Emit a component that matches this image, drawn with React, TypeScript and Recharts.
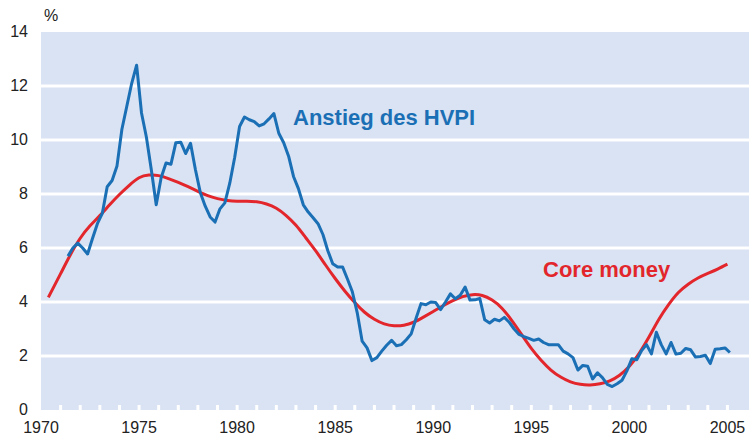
import { LineChart, Line, XAxis, YAxis, CartesianGrid } from "recharts";

// HVPI inflation, quarterly (mid-quarter), starting 1971 Q2
const hvpiStart = 1971.375;
const hvpi = [
  5.7, 6.0, 6.18, // 1971
  6.0, 5.78, 6.35, 6.9, // 1972
  7.28, 8.27, 8.5, 9.04, // 1973
  10.4, 11.25, 12.1, 12.77, // 1974
  11.0, 10.1, 8.9, 7.6, // 1975
  8.6, 9.15, 9.1, 9.9, // 1976
  9.92, 9.5, 9.88, 8.9, // 1977
  8.05, 7.55, 7.15, 6.96, // 1978
  7.45, 7.67, 8.4, 9.35, // 1979
  10.5, 10.85, 10.75, 10.68, // 1980
  10.52, 10.6, 10.78, 10.98, // 1981
  10.25, 9.9, 9.4, 8.65, // 1982
  8.2, 7.6, 7.33, 7.12, // 1983
  6.9, 6.5, 5.9, 5.42, // 1984
  5.3, 5.3, 4.85, 4.38, // 1985
  3.6, 2.55, 2.3, 1.83, // 1986
  1.94, 2.18, 2.4, 2.58, // 1987
  2.38, 2.42, 2.6, 2.82, // 1988
  3.4, 3.94, 3.9, 4.0, // 1989
  3.98, 3.72, 4.0, 4.3, // 1990
  4.12, 4.25, 4.55, 4.07, // 1991
  4.08, 4.13, 3.34, 3.22, // 1992
  3.36, 3.3, 3.43, 3.25, // 1993
  3.0, 2.8, 2.72, 2.65, // 1994
  2.58, 2.63, 2.5, 2.42, // 1995
  2.42, 2.42, 2.18, 2.08, // 1996
  1.94, 1.48, 1.65, 1.62, // 1997
  1.15, 1.38, 1.2, 0.95, // 1998
  0.87, 0.97, 1.1, 1.45, // 1999
  1.9, 1.86, 2.2, 2.42, // 2000
  2.08, 2.88, 2.42, 2.08, // 2001
  2.5, 2.07, 2.1, 2.28, // 2002
  2.23, 1.96, 1.98, 2.03, // 2003
  1.72, 2.25, 2.27, 2.3, // 2004
  2.13, // 2005
];

// Core money (smoothed)
const coreYears = [
  1970.375, 1971, 1971.5, 1972, 1972.5, 1973, 1973.5, 1974, 1974.5, 1975, 1975.5,
  1976, 1976.5, 1977, 1977.5, 1978, 1978.5, 1979, 1979.5, 1980, 1980.5, 1981,
  1981.5, 1982, 1982.5, 1983, 1983.5, 1984, 1984.5, 1985, 1985.5, 1986, 1986.5,
  1987, 1987.5, 1988, 1988.5, 1989, 1989.5, 1990, 1990.5, 1991, 1991.5, 1992,
  1992.5, 1993, 1993.5, 1994, 1994.5, 1995, 1995.5, 1996, 1996.5, 1997, 1997.5,
  1998, 1998.5, 1999, 1999.5, 2000, 2000.5, 2001, 2001.5, 2002, 2002.5, 2003,
  2003.5, 2004, 2004.5, 2005,
];
const core = [
  4.17, 5.05, 5.75, 6.36, 6.82, 7.2, 7.6, 7.98, 8.32, 8.6, 8.7,
  8.68, 8.57, 8.43, 8.27, 8.1, 7.94, 7.83, 7.76, 7.73, 7.73, 7.71,
  7.63, 7.47, 7.2, 6.84, 6.38, 5.9, 5.38, 4.87, 4.4, 3.98, 3.62,
  3.36, 3.19, 3.12, 3.14, 3.25, 3.44, 3.65, 3.86, 4.05, 4.2, 4.27,
  4.24, 4.07, 3.77, 3.32, 2.8, 2.28, 1.84, 1.48, 1.22, 1.04, 0.95,
  0.93, 0.97, 1.08, 1.29, 1.62, 2.1, 2.7, 3.35, 3.9, 4.35, 4.66,
  4.89, 5.06, 5.22, 5.4,
];

const yTicks = [0, 2, 4, 6, 8, 10, 12, 14];
const gridValues = [2, 4, 6, 8, 10, 12];
const yearLabels = [1970, 1975, 1980, 1985, 1990, 1995, 2000, 2005];
const yearTicks = Array.from({ length: 36 }, (_, i) => 1970 + i);

const hvpiData = hvpi.map((v, i) => ({ year: hvpiStart + i * 0.25, v }));
const coreData = coreYears.map((year, i) => ({ year, v: core[i] }));

const font = "Arial, 'Liberation Sans', sans-serif";
const blue = "#1a6fb5";
const red = "#e2262b";

function YearTick({ x, y, payload }: any) {
  const yr = payload.value;
  return (
    <g>
      {yr > 1970 && <line x1={x} x2={x} y1={y - 5} y2={y} stroke="#fff" strokeWidth={3} />}
      {yearLabels.includes(yr) && (
        <text x={x} y={y + 23} textAnchor="middle" fontSize={16} fill="#222" fontFamily={font}>
          {yr}
        </text>
      )}
    </g>
  );
}

export default function App() {
  return (
    <div style={{ position: "absolute", left: 0, top: 0, width: 752, height: 436, background: "#fff" }}>
      <LineChart width={752} height={436} margin={{ top: 32, right: 3, left: 0, bottom: 0 }}>
        <CartesianGrid
          fill="#d9e3f3"
          stroke="#fff"
          strokeWidth={3}
          vertical={false}
          horizontalValues={gridValues}
        />
        <XAxis
          type="number"
          dataKey="year"
          domain={[1970, 2006.1]}
          ticks={yearTicks}
          interval={0}
          height={26}
          axisLine={false}
          tickLine={false}
          tickSize={0}
          tickMargin={0}
          tick={<YearTick />}
          allowDataOverflow
        />
        <YAxis
          type="number"
          domain={[0, 14]}
          ticks={yTicks}
          interval={0}
          width={41}
          axisLine={false}
          tickLine={false}
          tickSize={0}
          tickMargin={13}
          tick={{ fontSize: 16, fill: "#222", fontFamily: font, dy: -1 }}
        />
        <Line
          data={coreData}
          dataKey="v"
          type="natural"
          stroke={red}
          strokeWidth={3}
          dot={false}
          isAnimationActive={false}
        />
        <Line
          data={hvpiData}
          dataKey="v"
          type="linear"
          stroke={blue}
          strokeWidth={3}
          dot={false}
          strokeLinejoin="round"
          isAnimationActive={false}
        />
      </LineChart>
      <svg width={752} height={436} style={{ position: "absolute", left: 0, top: 0, pointerEvents: "none" }}>
        <text x={44} y={21} fontSize={16} fill="#222" fontFamily={font}>%</text>
        <text x={293} y={125} fontSize={22} fontWeight="bold" fill={blue} fontFamily={font}>
          Anstieg des HVPI
        </text>
        <text x={543} y={277} fontSize={22} fontWeight="bold" fill={red} fontFamily={font}>
          Core money
        </text>
      </svg>
    </div>
  );
}
